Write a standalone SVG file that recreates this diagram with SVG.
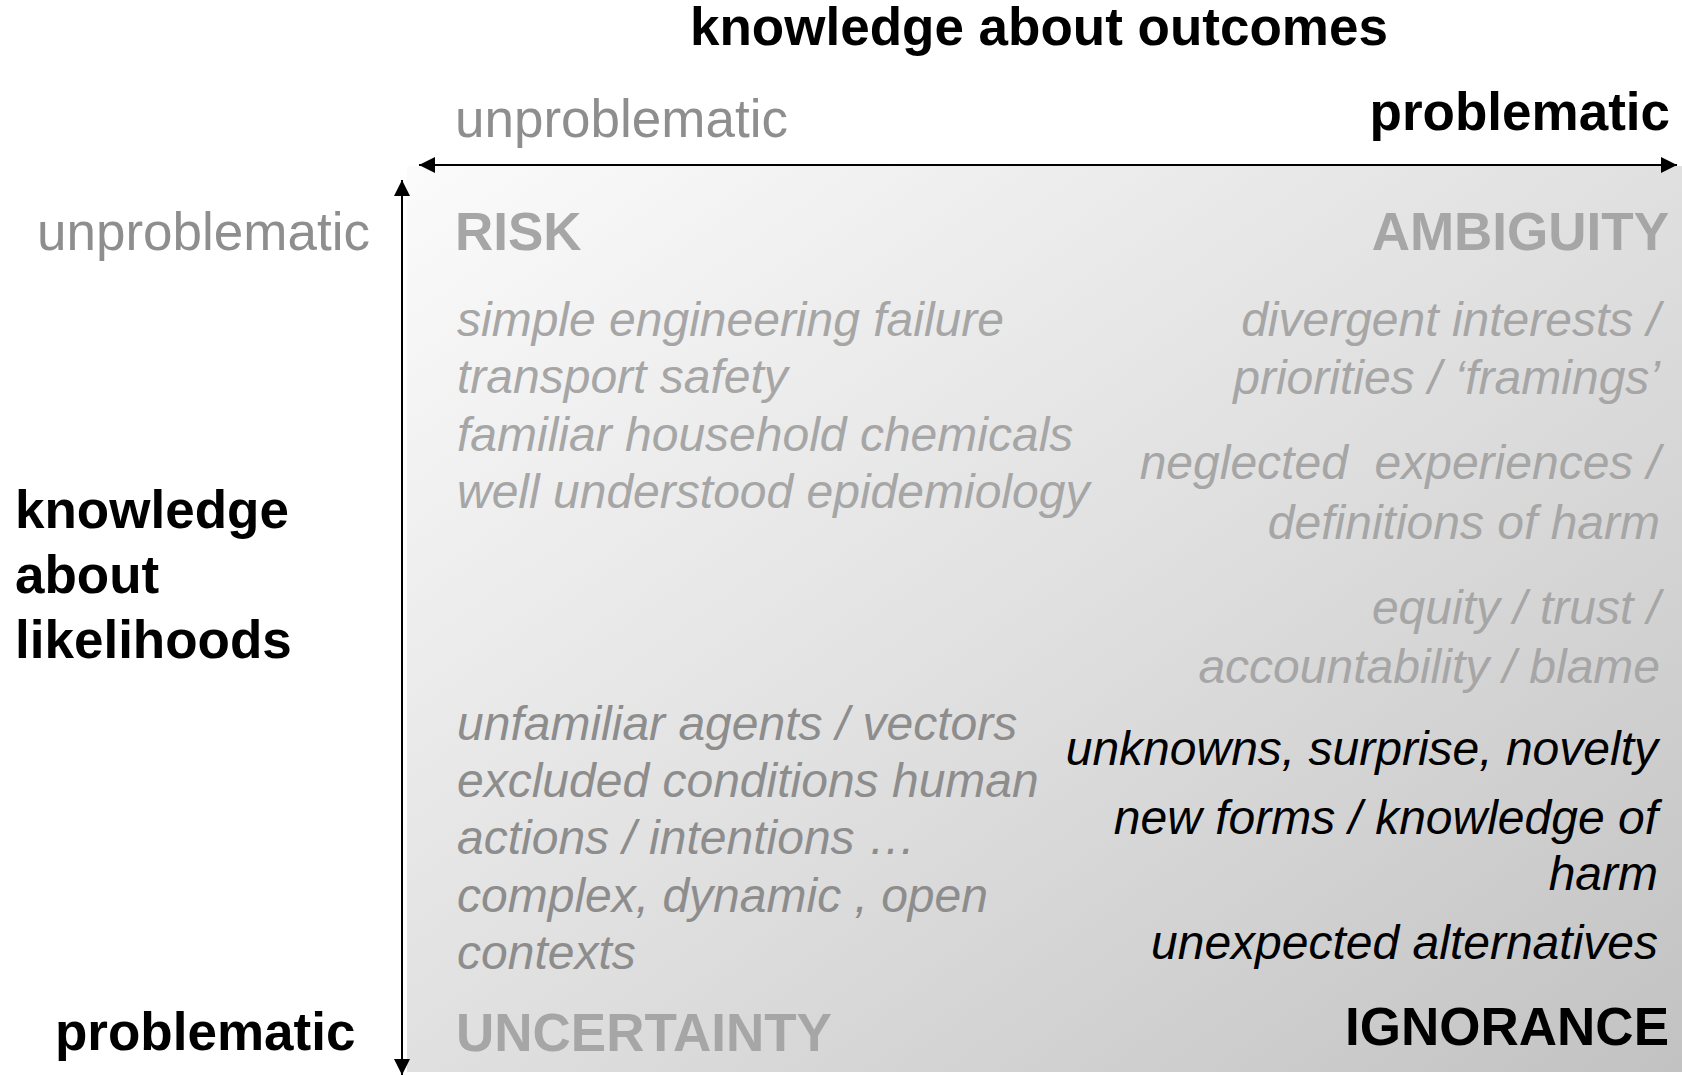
<svg xmlns="http://www.w3.org/2000/svg" width="1682" height="1075" viewBox="0 0 1682 1075">
  <defs>
    <linearGradient id="bg" x1="0" y1="0" x2="1" y2="1">
      <stop offset="0" stop-color="#fbfbfb"/>
      <stop offset="0.5" stop-color="#e0e0e0"/>
      <stop offset="1" stop-color="#c2c2c2"/>
    </linearGradient>
    <marker id="ah" viewBox="0 0 16 16" refX="16" refY="8" markerWidth="16" markerHeight="16" markerUnits="userSpaceOnUse" orient="auto-start-reverse">
      <path d="M0,0 L16,8 L0,16 Z" fill="#000"/>
    </marker>
  </defs>
  <style>
    text { font-family: "Liberation Sans", Arial, sans-serif; }
    .big { font-size: 53px; font-weight: bold; }
    .axis { font-size: 53px; fill: #8e8e8e; }
    .blk { fill: #000; }
    .gry { fill: #a6a6a6; }
    .it { font-size: 48px; font-style: italic; }
    .it1 { fill: #a6a6a6; }
    .it2 { fill: #8d8d8d; }
    .it3 { fill: #000; }
    .end { text-anchor: end; }
  </style>
  <rect id="field" x="407" y="166" width="1275" height="906" fill="url(#bg)"/>

  <g id="connectors" stroke="#000" stroke-width="2" fill="none">
    <line id="axis-outcomes" x1="419" y1="165" x2="1677" y2="165" marker-start="url(#ah)" marker-end="url(#ah)"/>
    <line id="axis-likelihoods" x1="402" y1="180" x2="402" y2="1075" marker-start="url(#ah)" marker-end="url(#ah)"/>
  </g>

  <g id="title-outcomes"><text class="big blk" x="690" y="45">knowledge about outcomes</text></g>
  <g id="outcomes-unproblematic"><text class="axis" x="455" y="137">unproblematic</text></g>
  <g id="outcomes-problematic"><text class="big blk end" x="1670" y="130">problematic</text></g>

  <g id="title-likelihoods">
    <text class="big blk" x="15" y="528">knowledge</text>
    <text class="big blk" x="15" y="593">about</text>
    <text class="big blk" x="15" y="658">likelihoods</text>
  </g>
  <g id="likelihoods-unproblematic"><text class="axis" x="37" y="250">unproblematic</text></g>
  <g id="likelihoods-problematic"><text class="big blk" x="55" y="1050">problematic</text></g>

  <g id="risk">
    <text class="big gry" x="455" y="250">RISK</text>
    <text class="it it1" x="457" y="336">simple engineering failure</text>
    <text class="it it1" x="457" y="393">transport safety</text>
    <text class="it it1" x="457" y="451">familiar household chemicals</text>
    <text class="it it1" x="457" y="508">well understood epidemiology</text>
  </g>

  <g id="ambiguity">
    <text class="big gry end" x="1669" y="250">AMBIGUITY</text>
    <text class="it it1 end" x="1660" y="336">divergent interests /</text>
    <text class="it it1 end" x="1660" y="394">priorities / ‘framings’</text>
    <text class="it it1 end" x="1660" y="479" xml:space="preserve">neglected  experiences /</text>
    <text class="it it1 end" x="1660" y="539">definitions of harm</text>
    <text class="it it1 end" x="1660" y="624">equity / trust /</text>
    <text class="it it1 end" x="1660" y="683">accountability / blame</text>
  </g>

  <g id="uncertainty">
    <text class="it it2" x="457" y="740">unfamiliar agents / vectors</text>
    <text class="it it2" x="457" y="797">excluded conditions human</text>
    <text class="it it2" x="457" y="854">actions / intentions …</text>
    <text class="it it2" x="457" y="912">complex, dynamic , open</text>
    <text class="it it2" x="457" y="969">contexts</text>
    <text class="big gry" x="456" y="1051">UNCERTAINTY</text>
  </g>

  <g id="ignorance">
    <text class="it it3 end" x="1658" y="765">unknowns, surprise, novelty</text>
    <text class="it it3 end" x="1658" y="834">new forms / knowledge of</text>
    <text class="it it3 end" x="1658" y="890">harm</text>
    <text class="it it3 end" x="1658" y="959">unexpected alternatives</text>
    <text class="big blk end" x="1669" y="1045">IGNORANCE</text>
  </g>
</svg>
